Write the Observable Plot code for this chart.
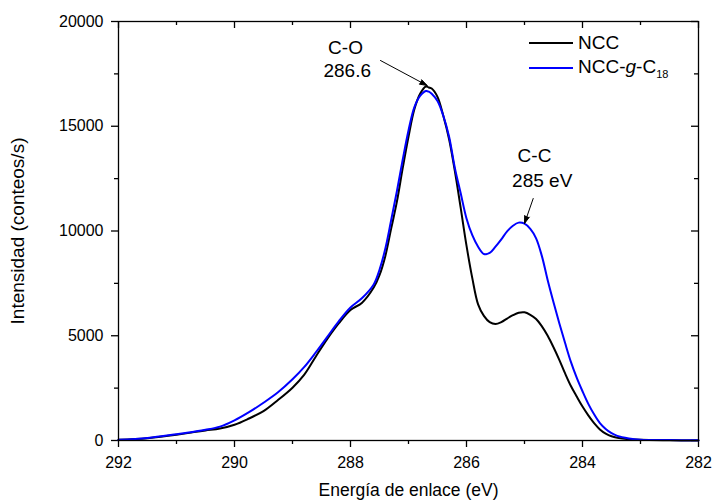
<!DOCTYPE html>
<html>
<head>
<meta charset="utf-8">
<script src="https://cdn.jsdelivr.net/npm/d3@7"></script>
<script src="https://cdn.jsdelivr.net/npm/@observablehq/plot@0.6"></script>
<style>
  html, body { margin: 0; padding: 0; background: white; }
  #wrap { position: relative; width: 714px; height: 504px; font-family: "Liberation Sans", Arial, sans-serif; }
  #legend { position: absolute; left: 529px; top: 30px; font-size: 19px; color: #000; }
  #legend .row { display: flex; align-items: center; height: 25px; }
  #legend .sw { display: inline-block; width: 44px; height: 2px; margin-right: 5px; }
  #legend sub { font-size: 11px; vertical-align: -5px; }
</style>
</head>
<body>
<div id="wrap"><div id="legend"></div></div>
<script>
// Binding energy (eV)
const energy = [292, 291.5, 291, 290.7, 290.5, 290.25, 290, 289.75, 289.5, 289.25, 289, 288.8, 288.6, 288.4, 288.2, 288, 287.8, 287.6, 287.5, 287.4, 287.3, 287.2, 287.1, 287, 286.9, 286.8, 286.7, 286.65, 286.6, 286.5, 286.4, 286.3, 286.2, 286.1, 286, 285.9, 285.8, 285.7, 285.6, 285.5, 285.4, 285.3, 285.2, 285.1, 285, 284.9, 284.8, 284.7, 284.6, 284.5, 284.4, 284.3, 284.2, 284.1, 284, 283.9, 283.8, 283.7, 283.6, 283.5, 283.4, 283.2, 283, 282.5, 282];
// NCC intensity (counts/s)
const ncc = [30, 110, 270, 400, 480, 570, 750, 1050, 1400, 1930, 2520, 3130, 4000, 4850, 5600, 6230, 6580, 7300, 7890, 8800, 10100, 11400, 13000, 14500, 15800, 16550, 16900, 16850, 16800, 16400, 15500, 14380, 12850, 11100, 9300, 7750, 6500, 5950, 5650, 5560, 5650, 5820, 5980, 6100, 6120, 6000, 5800, 5450, 5000, 4450, 3850, 3200, 2600, 2100, 1620, 1200, 830, 530, 330, 200, 130, 60, 30, 10, 0];
// NCC-g-C18 intensity (counts/s)
const nccC18 = [30, 120, 300, 420, 510, 660, 960, 1350, 1800, 2300, 2920, 3500, 4200, 4950, 5700, 6350, 6800, 7450, 8150, 9150, 10500, 11900, 13400, 14800, 15900, 16450, 16680, 16650, 16550, 16200, 15500, 14500, 13000, 11800, 10600, 9800, 9250, 8900, 8950, 9250, 9600, 9980, 10250, 10400, 10350, 10100, 9650, 8800, 7650, 6600, 5600, 4650, 3750, 3000, 2350, 1750, 1250, 830, 550, 350, 220, 100, 40, 20, 10];

const seriesNames = ["NCC", "NCC-g-C18"];
const seriesColors = ["#000000", "#0000ff"];

// Axis ticks
const xMajor = [292, 290, 288, 286, 284, 282];
const xMinor = [291, 289, 287, 285, 283];
const yMajor = [0, 5000, 10000, 15000, 20000];
const yMinor = [2500, 7500, 12500, 17500];

// Annotations (eV, counts/s)
const annLine1 = ["C-O", "C-C"];
const annLine1X = [288.086, 284.828];
const annLine1Y = [18760, 13604];
const annLine2 = ["286.6", "285 eV"];
const annLine2X = [288.057, 284.695];
const annLine2Y = [17637, 12411];
const arrowX1 = [287.483, 284.85];
const arrowY1 = [18138, 11551];
const arrowX2 = [286.678, 285.0];
const arrowY2 = [16945, 10358];

const rows = [];
energy.forEach((e, i) => rows.push({e, v: ncc[i], s: seriesNames[0]}));
energy.forEach((e, i) => rows.push({e, v: nccC18[i], s: seriesNames[1]}));
const texts = annLine1.map((t, i) => ({t, x: annLine1X[i], y: annLine1Y[i]}))
  .concat(annLine2.map((t, i) => ({t, x: annLine2X[i], y: annLine2Y[i]})));
const arrows = arrowX1.map((x1, i) => ({x1, y1: arrowY1[i], x2: arrowX2[i], y2: arrowY2[i]}));

const W = 714, H = 504, mL = 118, mR = 16, mT = 21, mB = 64;
const plotW = W - mL - mR, plotH = H - mT - mB;
const fmt = d => String(d);

const chart = Plot.plot({
  width: W, height: H,
  marginLeft: mL, marginRight: mR, marginTop: mT, marginBottom: mB,
  style: {fontFamily: "'Liberation Sans', Arial, sans-serif", fontSize: "16px", color: "#000", background: "white", overflow: "visible"},
  x: {domain: [292, 282]},
  y: {domain: [0, 20000]},
  marks: [
    Plot.axisX({ticks: xMajor, tickSize: 7, tickPadding: 9, fontSize: 16, strokeWidth: 1.3, tickFormat: fmt,
      label: "Energía de enlace (eV)", labelAnchor: "center", labelOffset: 55, labelArrow: "none"}),
    Plot.axisX({ticks: xMinor, tickSize: 4, tickFormat: () => "", label: null, strokeWidth: 1.3}),
    Plot.axisY({ticks: yMajor, tickSize: 7, tickPadding: 8, fontSize: 16, strokeWidth: 1.3, tickFormat: fmt,
      label: "Intensidad (conteos/s)", labelAnchor: "center", labelOffset: 108, labelArrow: "none"}),
    Plot.axisY({ticks: yMinor, tickSize: 4, tickFormat: () => "", label: null, strokeWidth: 1.3}),
    Plot.tickX(xMajor, {x: d => d, insetBottom: plotH - 7, strokeWidth: 1.3}),
    Plot.tickX(xMinor, {x: d => d, insetBottom: plotH - 4, strokeWidth: 1.3}),
    Plot.tickY(yMajor, {y: d => d, insetLeft: plotW - 7, strokeWidth: 1.3}),
    Plot.tickY(yMinor, {y: d => d, insetLeft: plotW - 4, strokeWidth: 1.3}),
    Plot.line(rows, {x: "e", y: "v", z: "s", stroke: "s", strokeWidth: 2, curve: "catmull-rom"}),
    Plot.frame({stroke: "#000", strokeWidth: 1.3}),
    Plot.arrow(arrows, {x1: "x1", y1: "y1", x2: "x2", y2: "y2", stroke: "#000", strokeWidth: 1, headLength: 12, headAngle: 36}),
    Plot.text(texts, {x: "x", y: "y", text: "t", fontSize: 19, lineAnchor: "middle"})
  ],
  color: {domain: seriesNames, range: seriesColors}
});

d3.select(chart).selectAll("g[aria-label='x-axis label'] text").style("font-size", "17.5px");
d3.select(chart).selectAll("g[aria-label='y-axis label'] text").style("font-size", "19px");
d3.select(chart).selectAll("g[aria-label='arrow'] path").attr("fill", "#000").attr("stroke-linejoin", "miter");

document.getElementById("wrap").prepend(chart);

// Legend
const leg = document.getElementById("legend");
seriesNames.forEach((name, i) => {
  const row = document.createElement("div");
  row.className = "row";
  const sw = document.createElement("span");
  sw.className = "sw";
  sw.style.background = seriesColors[i];
  row.appendChild(sw);
  const lab = document.createElement("span");
  const parts = name.split("-");
  if (parts.length === 3) {
    lab.innerHTML = parts[0] + "-<i>" + parts[1] + "</i>-" + parts[2].replace(/(\d+)$/, "<sub>$1</sub>");
  } else {
    lab.textContent = name;
  }
  row.appendChild(lab);
  leg.appendChild(row);
});
</script>
</body>
</html>
